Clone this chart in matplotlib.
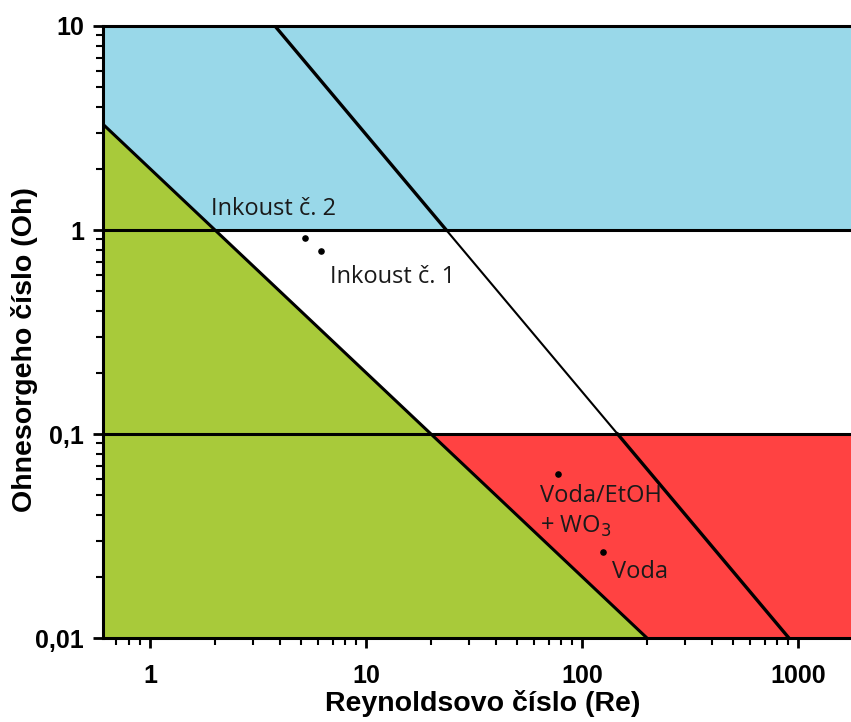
import numpy as np
import matplotlib
matplotlib.use('Agg')
import matplotlib.pyplot as plt
from matplotlib.ticker import FixedLocator, LogLocator, NullFormatter

# axis range (Re, Oh)
RE_RANGE = (0.606, 1760.0)
OH_RANGE = (0.01, 10.0)

# printability boundaries
OH_BOUNDS = [1.0, 0.1]                 # horizontal limits Z = 1 / Oh
LOW_RE = [0.606, 200.0]                # Re*Oh = 2 lower energy limit
LOW_OH = [3.3, 0.01]
SPLASH_RE = [3.79, 908.0]              # splashing limit
SPLASH_OH = [10.0, 0.01]

# measured fluids
FLUIDS = ['Inkoust č. 2', 'Inkoust č. 1', 'Voda/EtOH\n+ WO$_3$', 'Voda']
FLUID_RE = [5.22, 6.2, 77.4, 125.0]
FLUID_OH = [0.91, 0.79, 0.064, 0.0264]

BLUE = '#99d8e9'
GREEN = '#a8ca3a'
RED = '#ff4242'


def re_at(oh, re_pts, oh_pts):
    """Re on a straight log-log segment for a given Oh."""
    lr, lo = np.log10(re_pts), np.log10(oh_pts)
    return 10 ** np.interp(np.log10(oh), lo[::-1], lr[::-1])


fig = plt.figure(figsize=(8.51, 7.22), dpi=100)
ax = fig.add_axes([0.121, 0.1163, 0.879, 0.8477])
ax.set_xscale('log')
ax.set_yscale('log')
ax.set_xlim(*RE_RANGE)
ax.set_ylim(*OH_RANGE)

x0, x1 = RE_RANGE
y0, y1 = OH_RANGE
re_hi = re_at(OH_BOUNDS[0], LOW_RE, LOW_OH)
re_lo = re_at(OH_BOUNDS[1], LOW_RE, LOW_OH)

# regions
ax.fill([x0, x1, x1, re_hi, LOW_RE[0]],
        [y1, y1, OH_BOUNDS[0], OH_BOUNDS[0], LOW_OH[0]], color=BLUE, lw=0, zorder=1)
ax.fill([LOW_RE[0], LOW_RE[1], x0], [LOW_OH[0], LOW_OH[1], y0],
        color=GREEN, lw=0, zorder=1)
ax.fill([re_lo, x1, x1, LOW_RE[1]], [OH_BOUNDS[1], OH_BOUNDS[1], y0, y0],
        color=RED, lw=0, zorder=1)

# boundaries
for oh in OH_BOUNDS:
    ax.axhline(oh, color='black', lw=2.2, zorder=3)
ax.plot(LOW_RE, LOW_OH, color='black', lw=2.2, zorder=3, solid_capstyle='butt')

s_hi = re_at(OH_BOUNDS[0], SPLASH_RE, SPLASH_OH)
s_lo = re_at(OH_BOUNDS[1], SPLASH_RE, SPLASH_OH)
ax.plot([SPLASH_RE[0], s_hi], [SPLASH_OH[0], OH_BOUNDS[0]], color='black', lw=2.4, zorder=3)
ax.plot([s_hi, s_lo], [OH_BOUNDS[0], OH_BOUNDS[1]], color='black', lw=1.5, zorder=3)
ax.plot([s_lo, SPLASH_RE[1]], [OH_BOUNDS[1], SPLASH_OH[1]], color='black', lw=2.4, zorder=3)

# fluid points + labels
ax.scatter(FLUID_RE, FLUID_OH, s=14, color='black', zorder=4)
font = dict(family='Open Sans', fontsize=17, color='#1a1a1a', zorder=5)
offsets = [(-68, 21.5), (6.5, -18.7), (-13, -27.5), (6.5, -14.4)]
for name, re, oh, (dx, dy) in zip(FLUIDS, FLUID_RE, FLUID_OH, offsets):
    ax.annotate(name, (re, oh), xytext=(dx, dy), textcoords='offset points',
                ha='left', va='center', linespacing=1.3, **font)

# axes styling
for side in ('top', 'left', 'bottom'):
    ax.spines[side].set_linewidth(2.2)
    ax.spines[side].set_zorder(6)
ax.spines['right'].set_visible(False)

ax.xaxis.set_major_locator(FixedLocator([1, 10, 100, 1000]))
ax.xaxis.set_minor_locator(LogLocator(base=10, subs=np.arange(2, 10)))
ax.xaxis.set_minor_formatter(NullFormatter())
ax.set_xticklabels(['1', '10', '100', '1000'])
ax.yaxis.set_major_locator(FixedLocator([0.01, 0.1, 1, 10]))
ax.yaxis.set_minor_locator(LogLocator(base=10, subs=np.arange(2, 10)))
ax.yaxis.set_minor_formatter(NullFormatter())
ax.set_yticklabels(['0,01', '0,1', '1', '10'])

ax.tick_params(which='major', direction='out', length=7.5, width=2,
               labelsize=18)
ax.tick_params(axis='x', which='major', pad=11)
ax.tick_params(axis='y', which='major', pad=6)
ax.tick_params(which='minor', direction='out', length=5, width=1.5)
for lab in ax.get_xticklabels() + ax.get_yticklabels():
    lab.set_family('Liberation Sans')
    lab.set_fontweight('bold')

ax.set_xlabel('Reynoldsovo číslo (Re)', fontsize=20.5, fontweight='bold',
              family='Liberation Sans')
ax.set_ylabel('Ohnesorgeho číslo (Oh)', fontsize=20.5, fontweight='bold',
              family='Liberation Sans')
ax.xaxis.set_label_coords(0.507, -0.085)
ax.yaxis.set_label_coords(-0.087, 0.472)

fig.savefig('out.png', dpi=100)
